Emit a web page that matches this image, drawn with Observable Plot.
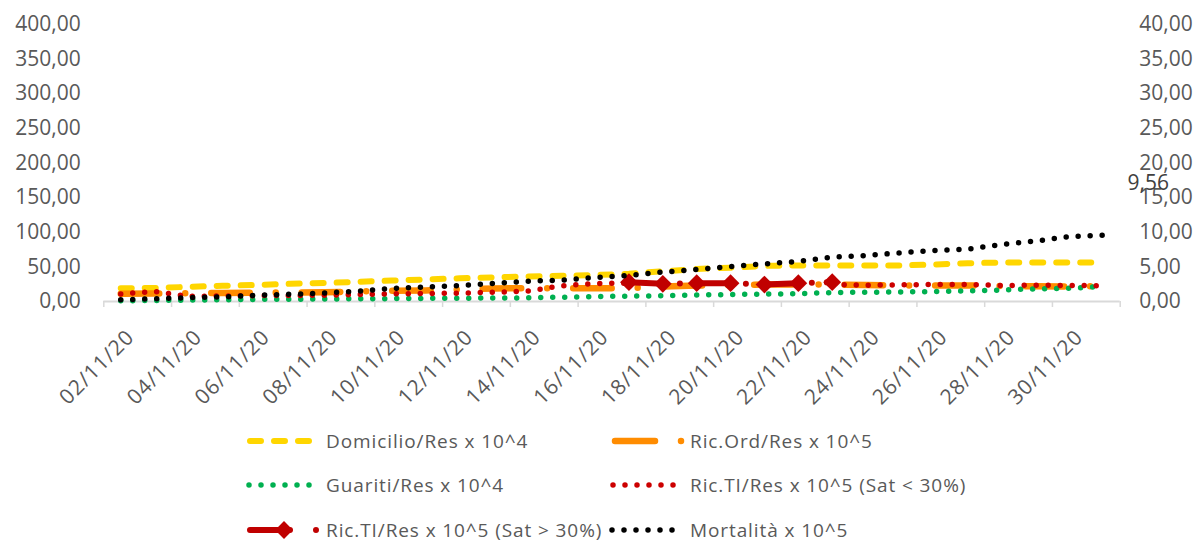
<!DOCTYPE html>
<html><head><meta charset="utf-8">
<script src="https://cdn.jsdelivr.net/npm/d3@7"></script>
<script src="https://cdn.jsdelivr.net/npm/@observablehq/plot@0.6"></script>
<style>
body{margin:0;background:#fff;font-family:"Open Sans",sans-serif;}
#wrap{position:relative;width:1196px;height:544px;overflow:hidden;background:#fff}
#wrap svg{display:block}
</style></head><body><div id="wrap"></div>
<script>
const categories = ["02/11/20","03/11/20","04/11/20","05/11/20","06/11/20","07/11/20","08/11/20","09/11/20","10/11/20","11/11/20",
  "12/11/20","13/11/20","14/11/20","15/11/20","16/11/20","17/11/20","18/11/20","19/11/20","20/11/20","21/11/20",
  "22/11/20","23/11/20","24/11/20","25/11/20","26/11/20","27/11/20","28/11/20","29/11/20","30/11/20","01/12/20"];
const domicilio = [1.92,1.95,2.12,2.27,2.38,2.56,2.67,2.84,3.03,3.18,3.35,3.48,3.61,3.71,3.83,4.00,4.36,4.69,4.88,5.14,5.20,5.20,5.20,5.21,5.34,5.53,5.63,5.63,5.63,5.63];
const ricOrd = [1.11,1.16,1.20,1.23,1.26,1.30,1.34,1.44,1.55,1.59,1.73,1.88,1.92,1.92,1.92,1.92,2.17,2.31,2.38,2.45,2.45,2.45,2.38,2.31,2.31,2.31,2.24,2.21,2.17,2.24];
const guariti = [0.10,0.15,0.20,0.25,0.30,0.33,0.36,0.39,0.42,0.45,0.48,0.50,0.53,0.62,0.72,0.77,0.82,0.94,1.01,1.08,1.11,1.30,1.34,1.37,1.44,1.52,1.66,1.83,1.92,2.17];
const ricTiLow = [1.10,1.45,0.75,0.80,0.85,0.87,0.90,1.00,1.10,1.15,1.20,1.34,1.49,2.25,2.60,2.65,null,null,null,null,null,2.45,2.35,2.41,2.45,2.45,2.31,2.35,2.31,2.27];
const ricTiHigh = [null,null,null,null,null,null,null,null,null,null,null,null,null,null,null,2.79,2.55,2.64,2.64,2.45,2.64,2.79,null,null,null,null,null,null,null,null];
const mortalita = [0.25,0.40,0.55,0.65,0.90,1.04,1.23,1.47,1.88,2.10,2.31,2.60,2.92,3.08,3.47,3.78,4.25,4.62,5.03,5.43,5.78,6.43,6.64,7.03,7.36,7.57,8.23,8.72,9.39,9.56];
const leftTicks = [0,50,100,150,200,250,300,350,400];
const rightTicks = [0,5,10,15,20,25,30,35,40];
const seriesNames = ["Domicilio/Res x 10^4","Ric.Ord/Res x 10^5","Guariti/Res x 10^4","Ric.TI/Res x 10^5 (Sat < 30%)","Ric.TI/Res x 10^5 (Sat > 30%)","Mortalità x 10^5"];

const fmt = v => d3.format(".2f")(v).replace(".", ",");
const rows = categories.map((date, k) => ({k, date,
  domicilio: domicilio[k], ricOrd: ricOrd[k], guariti: guariti[k],
  ricTiLow: ricTiLow[k], ricTiHigh: ricTiHigh[k], mortalita: mortalita[k]}));
const tickPos = d3.range(0, categories.length + 1, 2).map(i => i - 0.5);

const C = {yellow:"#FFD600", orange:"#FF8C00", green:"#00B050", red:"#C00000", red2:"#CC0000", black:"#000000"};
const textColor = "#595959";

const plot = Plot.plot({
  width: 1196, height: 420,
  marginLeft: 103.3, marginRight: 76.3, marginTop: 24, marginBottom: 119,
  x: {type: "linear", domain: [-0.5, categories.length - 0.5], axis: null},
  y: {domain: [0, 40], axis: null},
  style: {fontFamily: "'Open Sans', sans-serif", fontSize: "21px", color: textColor, background: "#fff", overflow: "visible"},
  marks: [
    Plot.axisY(leftTicks.map(v => v / 10), {anchor: "left", tickSize: 0, tickPadding: 23, tickFormat: d => fmt(d * 10), fontSize: 21, fill: textColor, label: null}),
    Plot.axisY(rightTicks, {anchor: "right", tickSize: 0, tickPadding: 19, tickFormat: d => fmt(d), fontSize: 21, fill: textColor, label: null}),
    Plot.axisX(tickPos, {anchor: "bottom", tickSize: 6, tickFormat: () => "", stroke: "#D9D9D9", strokeWidth: 1.5, label: null}),
    Plot.ruleY([0], {stroke: "#D9D9D9", strokeWidth: 2}),
    Plot.text(rows.filter(d => d.k % 2 === 0), {x: "k", frameAnchor: "bottom", text: "date", rotate: -45,
      textAnchor: "end", lineAnchor: "middle", dx: 10, dy: 32, fontSize: 21, fill: textColor}),
    Plot.line(rows, {x: "k", y: "domicilio", stroke: C.yellow, strokeWidth: 6, strokeDasharray: "11 13", strokeLinecap: "round"}),
    Plot.line(rows, {x: "k", y: "ricOrd", stroke: C.orange, strokeWidth: 6.5, strokeDasharray: "38.5 26 0 26", strokeLinecap: "round"}),
    Plot.line(rows, {x: "k", y: "guariti", stroke: C.green, strokeWidth: 5.5, strokeDasharray: "0 12", strokeLinecap: "round"}),
    Plot.line(rows, {x: "k", y: "ricTiLow", stroke: C.red2, strokeWidth: 5.5, strokeDasharray: "0 12", strokeLinecap: "round"}),
    Plot.line(rows, {x: "k", y: "ricTiHigh", stroke: C.red, strokeWidth: 6, strokeDasharray: "36 15 0 15", strokeLinecap: "round"}),
    Plot.dot(rows.filter(d => d.ricTiHigh != null), {x: "k", y: "ricTiHigh", symbol: "diamond2", r: 8, fill: C.red, stroke: "none"}),
    Plot.line(rows, {x: "k", y: "mortalita", stroke: C.black, strokeWidth: 5.5, strokeDasharray: "0 12", strokeLinecap: "round"}),
    Plot.text([rows[rows.length - 1]], {x: "k", y: "mortalita", text: d => fmt(d.mortalita), dx: 45, dy: -52, fontSize: 21, fill: "#404040"})
  ]
});
// slightly wider letter spacing on the rotated date labels, as in the reference
d3.select(plot).selectAll("text").filter(function() { return /\/\d\d\/20$/.test(this.textContent); })
  .style("letter-spacing", "1px");
const wrap = document.getElementById("wrap");
wrap.appendChild(plot);

// Legend below the chart
const legend = d3.select(wrap).append("svg").attr("width", 1196).attr("height", 124)
  .style("font-family", "'Open Sans', sans-serif");
const rowsY = [21, 65, 110];
const items = [
  {name: seriesNames[0], color: C.yellow, w: 6, dash: "11 13", x1: 250, x2: 310, tx: 326, row: 0},
  {name: seriesNames[1], color: C.orange, w: 6.5, dash: "40 26 0 26", x1: 615, x2: 682, tx: 690, row: 0},
  {name: seriesNames[2], color: C.green, w: 5.5, dash: "0 12", x1: 249, x2: 310, tx: 326, row: 1},
  {name: seriesNames[3], color: C.red2, w: 5.5, dash: "0 12", x1: 613, x2: 674, tx: 690, row: 1},
  {name: seriesNames[4], color: C.red, w: 6, dash: "40 26 0 26", x1: 250, x2: 317, tx: 326, row: 2, marker: 284},
  {name: seriesNames[5], color: C.black, w: 5.5, dash: "0 12", x1: 612, x2: 673, tx: 690, row: 2}
];
for (const it of items) {
  const y = rowsY[it.row];
  legend.append("line").attr("x1", it.x1).attr("x2", it.x2).attr("y1", y).attr("y2", y)
    .attr("stroke", it.color).attr("stroke-width", it.w).attr("stroke-dasharray", it.dash).attr("stroke-linecap", "round");
  if (it.marker) {
    legend.append("path").attr("d", d3.symbol(d3.symbolDiamond2, 8 * 8 * Math.PI)())
      .attr("transform", `translate(${it.marker},${y})`).attr("fill", it.color);
  }
  legend.append("text").attr("x", it.tx).attr("y", y).attr("dy", "0.35em")
    .attr("fill", textColor).attr("font-size", 19).style("letter-spacing", "0.9px").text(it.name);
}
</script>
</body></html>
